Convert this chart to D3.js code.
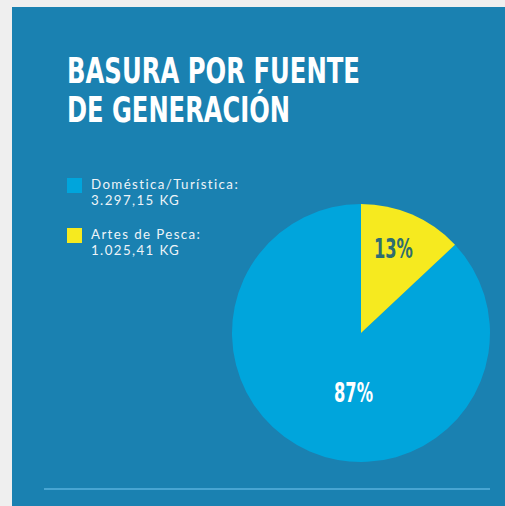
<!DOCTYPE html>
<html>
<head>
<meta charset="utf-8">
<script src="https://cdn.jsdelivr.net/npm/d3@7"></script>
<style>
  html, body { margin: 0; padding: 0; background: #efefef; }
  svg { display: block; }
  .title { font-family: "DejaVu Sans Condensed", "Roboto", sans-serif; font-weight: bold; fill: #ffffff; }
  .legend-text { font-family: "Lato", "Noto Sans", sans-serif; fill: #eef4f8; font-size: 13.3px; letter-spacing: 1.4px; }
  .pct { font-family: "DejaVu Sans Condensed", "Roboto", sans-serif; font-size: 26px; font-weight: bold; }
</style>
</head>
<body>
<svg id="chart"></svg>
<script>
const titleLines = ["BASURA POR FUENTE", "DE GENERACIÓN"];
const categories = ["Doméstica/Turística:", "Artes de Pesca:"];
const kgLabels = ["3.297,15 KG", "1.025,41 KG"];
const percents = [87, 13];
const colors = ["#00a5dc", "#f6ea1f"];
const pctColors = ["#ffffff", "#2e6d70"];

const dim = { width: 505, height: 506 };
const panel = { x: 12, y: 7 };
const pieCenter = { x: 361, y: 333 };
const radius = 129;

const svg = d3.select("#chart")
    .attr("width", dim.width)
    .attr("height", dim.height);

svg.append("rect")
    .attr("x", panel.x).attr("y", panel.y)
    .attr("width", dim.width - panel.x)
    .attr("height", dim.height - panel.y)
    .attr("fill", "#1a81b1");

// title
const titleWidths = [293, 223];
svg.append("g")
    .selectAll("text")
    .data(titleLines)
    .join("text")
    .attr("class", "title")
    .attr("x", 67)
    .attr("y", (d, i) => 83 + i * 39)
    .attr("font-size", 36)
    .attr("textLength", (d, i) => titleWidths[i])
    .attr("lengthAdjust", "spacingAndGlyphs")
    .text(d => d);

// legend
const legend = svg.append("g")
    .selectAll("g")
    .data(categories)
    .join("g")
    .attr("transform", (d, i) => `translate(67, ${178 + i * 50})`);

legend.append("rect")
    .attr("width", 15).attr("height", 15)
    .attr("fill", (d, i) => colors[i]);

const lt = legend.append("text")
    .attr("class", "legend-text")
    .attr("y", 11);
lt.append("tspan").attr("x", 24).text(d => d);
lt.append("tspan").attr("x", 24).attr("dy", 16).text((d, i) => kgLabels[i]);

// pie
const idx = d3.range(categories.length);
const pie = d3.pie()
    .sort(null)
    .value(i => percents[i])
    .startAngle(-2 * Math.PI * percents[0] / 100)
    .endAngle(2 * Math.PI - 2 * Math.PI * percents[0] / 100);

const arc = d3.arc().innerRadius(0).outerRadius(radius);
const arcs = pie(idx);

const g = svg.append("g")
    .attr("transform", `translate(${pieCenter.x}, ${pieCenter.y})`);

g.selectAll("path")
    .data(arcs)
    .join("path")
    .attr("d", arc)
    .attr("fill", d => colors[d.data]);

// label spots: small slice at its centroid, big slice nudged toward bottom
const labelAt = d => {
    const big = percents[d.data] > 50;
    const r = big ? 60 : 90;
    const a = big ? Math.PI * 1.04 : (d.startAngle + d.endAngle) / 2 - 0.04;
    return [r * Math.sin(a), -r * Math.cos(a)];
};

g.selectAll("text")
    .data(arcs)
    .join("text")
    .attr("class", "pct")
    .attr("text-anchor", "middle")
    .attr("dominant-baseline", "central")
    .attr("transform", d => `translate(${labelAt(d)})`)
    .attr("fill", d => pctColors[d.data])
    .attr("textLength", 39)
    .attr("lengthAdjust", "spacingAndGlyphs")
    .text(d => percents[d.data] + "%");

// footer rule
svg.append("line")
    .attr("x1", 44).attr("x2", 490)
    .attr("y1", 489).attr("y2", 489)
    .attr("stroke", "#58b2de")
    .attr("stroke-width", 1.5);
</script>
</body>
</html>
